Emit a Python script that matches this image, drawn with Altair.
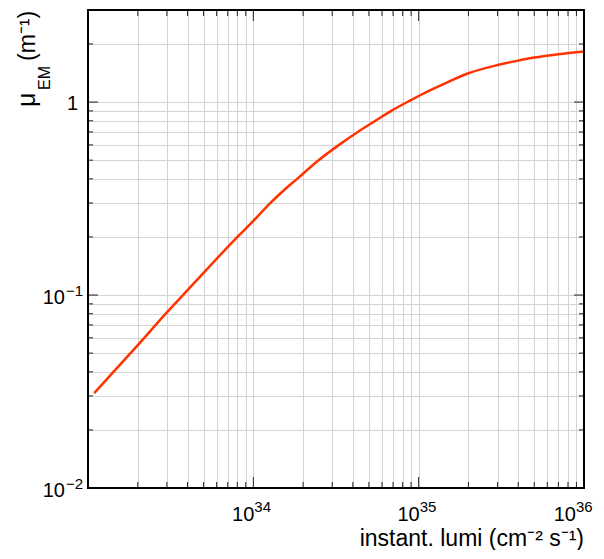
import math
import altair as alt
import pandas as pd

# Data (curve)
lumi = [1.09e33, 2.0e33, 3.0e33, 4.0e33, 8.1e33, 1.0e34, 1.27e34, 1.53e34, 1.84e34,
        2.45e34, 3.3e34, 4.28e34, 5.47e34, 6.9e34, 8.8e34, 1.0e35, 1.17e35, 1.5e35,
        2.0e35, 3.0e35, 4.0e35, 5.0e35, 7.0e35, 1.0e36]
mu = [0.031, 0.055, 0.0813, 0.106, 0.2018, 0.242, 0.30, 0.349, 0.40,
      0.495, 0.60, 0.70, 0.80, 0.905, 1.015, 1.075, 1.15, 1.27,
      1.41, 1.555, 1.64, 1.70, 1.77, 1.83]

# Tick label content
x_label_values = [1e34, 1e35, 1e36]
x_label_exps = ["34", "35", "36"]
y_label_values = [0.01, 0.1]
y_label_exps = ["\u22122", "\u22121"]
y_plain_values = [1.0]
y_plain_labels = ["1"]

X_DOMAIN = [1e33, 1e36]
Y_DOMAIN = [0.01, 3.0]

W, H = 496, 478
FONT = "Liberation Sans"
LINE_COLOR = "#ff3300"
GRID_COLOR = "#d4d4d4"
TICK_COLOR = "#222222"


def grid_values(lo, hi):
    vals = []
    e = int(math.floor(math.log10(lo)))
    while True:
        for m in range(1, 10):
            v = float(f"{m}e{e}")
            if v > hi * 1.0000001:
                return vals
            if v >= lo * 0.9999999:
                vals.append(v)
        e += 1


x_all = grid_values(*X_DOMAIN)
y_all = grid_values(*Y_DOMAIN)


def is_decade(v):
    return abs(math.log10(v) - round(math.log10(v))) < 1e-9


x_major = [v for v in x_all if is_decade(v)]
x_minor = [v for v in x_all if not is_decade(v)]
y_major = [v for v in y_all if is_decade(v)]
y_minor = [v for v in y_all if not is_decade(v)]

xscale = alt.Scale(type="log", domain=X_DOMAIN, nice=False)
yscale = alt.Scale(type="log", domain=Y_DOMAIN, nice=False)

xaxis = alt.Axis(values=x_all, grid=True, gridColor=GRID_COLOR, gridWidth=1,
                 ticks=False, domain=False, labels=False, title=None)
yaxis = alt.Axis(values=y_all, grid=True, gridColor=GRID_COLOR, gridWidth=1,
                 ticks=False, domain=False, labels=False, title=None)

df = pd.DataFrame({"lumi": lumi, "mu": mu})
line = alt.Chart(df).mark_line(color=LINE_COLOR, strokeWidth=2.5, clip=True,
                               interpolate="monotone").encode(
    x=alt.X("lumi:Q", scale=xscale, axis=xaxis),
    y=alt.Y("mu:Q", scale=yscale, axis=yaxis),
)


def xticks(vals, length):
    d = pd.DataFrame({"v": vals})
    bottom = alt.Chart(d).mark_rule(color=TICK_COLOR, strokeWidth=1).encode(
        x=alt.X("v:Q", scale=xscale), y=alt.value(H), y2=alt.value(H - length))
    top = alt.Chart(d).mark_rule(color=TICK_COLOR, strokeWidth=1).encode(
        x=alt.X("v:Q", scale=xscale), y=alt.value(0), y2=alt.value(length))
    return [bottom, top]


def yticks(vals, length):
    d = pd.DataFrame({"v": vals})
    left = alt.Chart(d).mark_rule(color=TICK_COLOR, strokeWidth=1).encode(
        y=alt.Y("v:Q", scale=yscale), x=alt.value(0), x2=alt.value(length))
    right = alt.Chart(d).mark_rule(color=TICK_COLOR, strokeWidth=1).encode(
        y=alt.Y("v:Q", scale=yscale), x=alt.value(W), x2=alt.value(W - length))
    return [left, right]


tick_layers = xticks(x_major, 11) + xticks(x_minor, 6) + yticks(y_major, 10) + yticks(y_minor, 5)

# Tick labels (base + superscript) placed through the scales
xl = pd.DataFrame({"v": x_label_values, "e": x_label_exps})


def x_label_layers(data, shift):
    base = alt.Chart(data).mark_text(text="10", font=FONT, fontSize=20, align="right",
                                     baseline="alphabetic", dx=1 + shift,
                                     color="black").encode(
        x=alt.X("v:Q", scale=xscale), y=alt.value(H + 33))
    sup = alt.Chart(data).mark_text(font=FONT, fontSize=15, align="left",
                                    baseline="alphabetic", dx=1 + shift,
                                    color="black").encode(
        x=alt.X("v:Q", scale=xscale), y=alt.value(H + 24), text="e:N")
    return [base, sup]


x_labels = (x_label_layers(xl[xl.v < X_DOMAIN[1] * 0.999], 0)
            + x_label_layers(xl[xl.v >= X_DOMAIN[1] * 0.999], -9))

yl = pd.DataFrame({"v": y_label_values, "e": y_label_exps})
y_base = alt.Chart(yl).mark_text(text="10", font=FONT, fontSize=20, align="right",
                                 baseline="alphabetic", dy=9, color="black").encode(
    y=alt.Y("v:Q", scale=yscale), x=alt.value(-23))
y_sup = alt.Chart(yl).mark_text(font=FONT, fontSize=15, align="left",
                                baseline="alphabetic", dy=1, color="black").encode(
    y=alt.Y("v:Q", scale=yscale), x=alt.value(-22), text="e:N")
yp = pd.DataFrame({"v": y_plain_values, "t": y_plain_labels})
y_plain = alt.Chart(yp).mark_text(font=FONT, fontSize=20, align="right",
                                  baseline="alphabetic", dy=8, color="black").encode(
    y=alt.Y("v:Q", scale=yscale), x=alt.value(-10), text="t:N")

one = pd.DataFrame({"a": [0]})


def text(t, x, y, size, angle=0, align="left"):
    return alt.Chart(one).mark_text(text=t, font=FONT, fontSize=size, angle=angle,
                                    align=align, baseline="alphabetic",
                                    color="black").encode(x=alt.value(x), y=alt.value(y))


titles = [
    text("μ", -53, 97, 25, angle=270),
    text("EM", -38, 80, 16, angle=270),
    text("(m⁻¹)", -53, 51, 23, angle=270),
    text("instant. lumi (cm⁻² s⁻¹)", W, 536, 23, align="right"),
]

frame = alt.Chart(one).mark_rect(fill=None, stroke="black", strokeWidth=2).encode(
    x=alt.value(0), x2=alt.value(W), y=alt.value(0), y2=alt.value(H))

chart = alt.layer(line, *tick_layers, frame, *x_labels, y_base, y_sup, y_plain,
                  *titles).properties(
    width=W, height=H,
    autosize=alt.AutoSizeParams(type="none"),
    padding={"left": 80, "top": 2, "right": 12, "bottom": 62},
    background="white",
).configure_view(strokeWidth=0)

chart.save("out.html", embed_options={"renderer": "svg", "actions": False})
